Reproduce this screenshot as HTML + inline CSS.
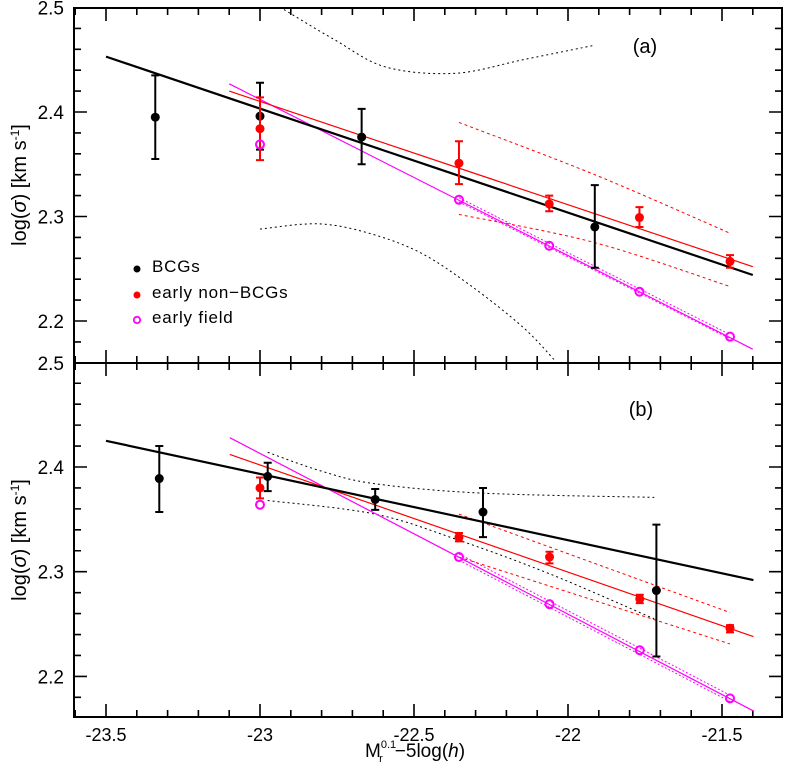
<!DOCTYPE html>
<html><head><meta charset="utf-8"><style>
html,body{margin:0;padding:0;background:#fff;}
svg{display:block;font-family:"Liberation Sans",sans-serif;}
</style></head><body>
<svg id="chart" width="785" height="772" viewBox="0 0 785 772" xmlns="http://www.w3.org/2000/svg">
<g id="plot"></g>
</svg>
<script>
// ---- data ----
const xTicksMajor = [-23.5, -23, -22.5, -22, -21.5];
const xTickLabels = ["-23.5", "-23", "-22.5", "-22", "-21.5"];
const yTicksA = [2.2, 2.3, 2.4, 2.5];
const yTicksB = [2.2, 2.3, 2.4];
// panel a
const aBcgX = [-23.34, -23.0, -22.67, -21.913];
const aBcgY = [2.395, 2.396, 2.376, 2.290];
const aBcgHi = [2.435, 2.428, 2.403, 2.330];
const aBcgLo = [2.355, 2.364, 2.350, 2.251];
const aRedX = [-23.0, -22.354, -22.061, -21.768, -21.474];
const aRedY = [2.384, 2.351, 2.312, 2.299, 2.257];
const aRedHi = [2.414, 2.372, 2.320, 2.309, 2.263];
const aRedLo = [2.354, 2.331, 2.305, 2.290, 2.251];
const aMagX = [-23.0, -22.354, -22.061, -21.768, -21.474];
const aMagY = [2.369, 2.316, 2.272, 2.228, 2.185];
const aFitBlack = [[-23.5, 2.453], [-21.4, 2.244]];
const aFitRed = [[-23.1, 2.420], [-21.4, 2.252]];
const aFitMag = [[-23.1, 2.427], [-21.4, 2.173]];
const aBandBlackUpX = [-22.922, -22.757, -22.591, -22.367, -22.146, -21.912];
const aBandBlackUpY = [2.498, 2.469, 2.443, 2.437, 2.450, 2.464];
const aBandBlackLoX = [-23.0, -22.812, -22.646, -22.477, -22.312, -22.146, -22.045];
const aBandBlackLoY = [2.288, 2.293, 2.284, 2.265, 2.233, 2.194, 2.163];
const aBandRedUp = [[-22.354, 2.390], [-21.913, 2.340], [-21.474, 2.284]];
const aBandRedLo = [[-22.354, 2.302], [-21.913, 2.275], [-21.474, 2.233]];
const aBandMag = [[-22.354, 2.316], [-21.474, 2.185]];
// panel b
const bBcgX = [-23.327, -22.975, -22.626, -22.276, -21.713];
const bBcgY = [2.389, 2.391, 2.369, 2.357, 2.282];
const bBcgHi = [2.420, 2.404, 2.379, 2.380, 2.345];
const bBcgLo = [2.357, 2.377, 2.359, 2.333, 2.219];
const bRedX = [-23.0, -22.354, -22.06, -21.767, -21.474];
const bRedY = [2.380, 2.333, 2.314, 2.274, 2.246];
const bRedHi = [2.390, 2.337, 2.319, 2.278, 2.249];
const bRedLo = [2.370, 2.329, 2.308, 2.270, 2.242];
const bMagX = [-23.0, -22.354, -22.06, -21.767, -21.474];
const bMagY = [2.364, 2.314, 2.269, 2.225, 2.179];
const bFitBlack = [[-23.5, 2.425], [-21.398, 2.292]];
const bFitRed = [[-23.098, 2.412], [-21.398, 2.238]];
const bFitMag = [[-23.098, 2.428], [-21.398, 2.167]];
const bBandBlackUpX = [-22.975, -22.8, -22.626, -22.276, -21.72];
const bBandBlackUpY = [2.414, 2.396, 2.384, 2.375, 2.371];
const bBandBlackLoX = [-22.975, -22.626, -22.354, -22.06, -21.72];
const bBandBlackLoY = [2.368, 2.355, 2.330, 2.298, 2.255];
const bBandRedUp = [[-22.354, 2.355], [-21.474, 2.261]];
const bBandRedLo = [[-22.354, 2.314], [-21.474, 2.231]];
const bBandMag = [[-22.354, 2.314], [-21.474, 2.179]];

// ---- geometry ----
const L = 74, R = 782;
const X = v => 106 + (v + 23.5) * 308;
const YA = v => 112 - (v - 2.4) * 1045;
const YB = v => 467 - (v - 2.4) * 1047;
const topA = 8, mid = 363, botB = 717;
const NS = "http://www.w3.org/2000/svg";
const root = document.getElementById('plot');
function mk(tag, attrs, parent) {
  const e = document.createElementNS(NS, tag);
  for (const k in attrs) e.setAttribute(k, attrs[k]);
  (parent || root).appendChild(e);
  return e;
}
function smoothD(P) {
  let d = `M${P[0][0]},${P[0][1]}`;
  for (let i = 0; i < P.length - 1; i++) {
    const p0 = P[i - 1] || P[i], p1 = P[i], p2 = P[i + 1], p3 = P[i + 2] || P[i + 1];
    const c1 = [p1[0] + (p2[0] - p0[0]) / 6, p1[1] + (p2[1] - p0[1]) / 6];
    const c2 = [p2[0] - (p3[0] - p1[0]) / 6, p2[1] - (p3[1] - p1[1]) / 6];
    d += ` C${c1[0]},${c1[1]} ${c2[0]},${c2[1]} ${p2[0]},${p2[1]}`;
  }
  return d;
}
function poly(pts, Y, stroke, w, dash, name, g) {
  const P = pts.map(p => [X(p[0]), Y(p[1])]);
  const e = mk('path', {d: smoothD(P), fill: 'none', stroke: stroke, 'stroke-width': w}, g);
  if (dash) e.setAttribute('stroke-dasharray', dash);
  
  
  return e;
}
function zip(xs, ys) { return xs.map((x, i) => [x, ys[i]]); }
function errs(xs, ys, hi, lo, Y, color, name, g) {
  xs.forEach((x, i) => {
    const px = X(x);
    const ln = mk('path', {d: `M${px},${Y(hi[i])}V${Y(lo[i])}M${px-4},${Y(hi[i])}h8M${px-4},${Y(lo[i])}h8`, stroke: color, 'stroke-width': 2, fill: 'none'}, g);
    
    
    const c = mk('circle', {cx: px, cy: Y(ys[i]), r: 4.5, fill: color}, g);
    
    
  });
}
function opens(xs, ys, Y, name, g) {
  xs.forEach((x, i) => {
    const c = mk('circle', {cx: X(x), cy: Y(ys[i]), r: 4, fill: 'none', stroke: '#f0f', 'stroke-width': 2}, g);
    
    
  });
}
function axes(Y, yTop, yBot, labels, panel) {
  const g = mk('g', {});
  
  
  let d = '';
  for (let i = -236; i <= -213; i++) {
    const v = i / 10, px = X(v);
    if (px < L || px > R) continue;
    const big = Math.abs(v * 2 - Math.round(v * 2)) < 1e-6;
    const len = big ? 13 : 7;
    d += `M${px},${yBot}v${-len}M${px},${yTop}v${len}`;
  }
  for (let i = 100; i <= 130; i++) {
    const v = i / 50, py = Y(v);
    if (py < yTop + 1 || py > yBot - 1) continue;
    const big = i % 5 === 0;
    const len = big ? 13 : 7;
    d += `M${L},${py}h${len}M${R},${py}h${-len}`;
  }
  mk('path', {d: d, stroke: '#000', 'stroke-width': 1.6, fill: 'none'}, g);
  labels.forEach(v => {
    const t = mk('text', {x: 64, y: Y(v) + 7, 'text-anchor': 'end', 'font-size': 19}, g);
    t.textContent = v.toFixed(1);
    
    
  });
  return g;
}

// Panel a
axes(YA, topA, mid, yTicksA, 'panel-a');
const ga = mk('g', {});


poly(zip(aBandBlackUpX, aBandBlackUpY), YA, '#000', 1, '2,3', 'bcg-band-upper', ga);
poly(zip(aBandBlackLoX, aBandBlackLoY), YA, '#000', 1, '2,3', 'bcg-band-lower', ga);
poly(aBandRedUp, YA, '#f00', 1, '3,3', 'red-band-upper', ga);
poly(aBandRedLo, YA, '#f00', 1, '3,3', 'red-band-lower', ga);
poly(aBandMag.map(p => [p[0], p[1] + 0.002]), YA, '#f0f', 1, '2,2', 'field-band-upper', ga);
poly(aBandMag.map(p => [p[0], p[1] - 0.002]), YA, '#f0f', 1, '2,2', 'field-band-lower', ga);
poly(aFitMag, YA, '#f0f', 1.2, null, 'field-fit-line', ga);
poly(aFitRed, YA, '#f00', 1.2, null, 'red-fit-line', ga);
poly(aFitBlack, YA, '#000', 2.2, null, 'bcg-fit-line', ga);
errs(aBcgX, aBcgY, aBcgHi, aBcgLo, YA, '#000', 'bcg', ga);
errs(aRedX, aRedY, aRedHi, aRedLo, YA, '#f00', 'non-bcg', ga);
opens(aMagX, aMagY, YA, 'field', ga);

// Panel b
axes(YB, mid, botB, yTicksB, 'panel-b');
const gb = mk('g', {});


poly(zip(bBandBlackUpX, bBandBlackUpY), YB, '#000', 1, '2,3', 'bcg-band-upper', gb);
poly(zip(bBandBlackLoX, bBandBlackLoY), YB, '#000', 1, '2,3', 'bcg-band-lower', gb);
poly(bBandRedUp, YB, '#f00', 1, '3,3', 'red-band-upper', gb);
poly(bBandRedLo, YB, '#f00', 1, '3,3', 'red-band-lower', gb);
poly(bBandMag.map(p => [p[0], p[1] + 0.003]), YB, '#f0f', 1, '2,2', 'field-band-upper', gb);
poly(bBandMag.map(p => [p[0], p[1] - 0.003]), YB, '#f0f', 1, '2,2', 'field-band-lower', gb);
poly(bFitMag, YB, '#f0f', 1.2, null, 'field-fit-line', gb);
poly(bFitRed, YB, '#f00', 1.2, null, 'red-fit-line', gb);
poly(bFitBlack, YB, '#000', 2.2, null, 'bcg-fit-line', gb);
errs(bBcgX, bBcgY, bBcgHi, bBcgLo, YB, '#000', 'bcg', gb);
errs(bRedX, bRedY, bRedHi, bRedLo, YB, '#f00', 'non-bcg', gb);
opens(bMagX, bMagY, YB, 'field', gb);

// frames
const fr = mk('path', {d: `M${L},${topA}H${R}V${botB}H${L}ZM${L},${mid}H${R}`, stroke: '#000', 'stroke-width': 2, fill: 'none'});


const lbl = mk('text', {x: 64, y: mid + 7, 'text-anchor': 'end', 'font-size': 19});
lbl.textContent = '2.5';



// x tick labels
xTicksMajor.forEach((v, i) => {
  const t = mk('text', {x: X(v), y: 741, 'text-anchor': 'middle', 'font-size': 18});
  t.textContent = xTickLabels[i];
  
  
});
</script>
<svg width="785" height="772" style="position:absolute;left:0;top:0;font-family:'Liberation Sans',sans-serif">
  <text x="645" y="53" font-size="20" text-anchor="middle">(a)</text>
  <text x="641" y="416" font-size="20" text-anchor="middle">(b)</text>
  <g>
    <circle cx="137" cy="269" r="3.5" fill="#000"/>
    <text x="152" y="272" font-size="17" letter-spacing="0.8">BCGs</text>
    <circle cx="137" cy="295" r="3.5" fill="#f00"/>
    <text x="152" y="298" font-size="17" letter-spacing="0.8">early non−BCGs</text>
    <circle cx="137" cy="320" r="3.2" fill="none" stroke="#f0f" stroke-width="1.8"/>
    <text x="152" y="323" font-size="17" letter-spacing="0.8">early field</text>
  </g>
  <text transform="translate(26,185) rotate(-90)" font-size="20" text-anchor="middle">log(<tspan font-style="italic">σ</tspan>) [km s<tspan font-size="12" dy="-7">-1</tspan><tspan dy="7">]</tspan></text>
  <text transform="translate(26,540) rotate(-90)" font-size="20" text-anchor="middle">log(<tspan font-style="italic">σ</tspan>) [km s<tspan font-size="12" dy="-7">-1</tspan><tspan dy="7">]</tspan></text>
  <text x="365" y="757" font-size="19">M<tspan font-size="11" dy="-9">0.1</tspan><tspan font-size="11" dx="-17" dy="14">r</tspan><tspan dx="12" dy="-5">−5log(<tspan font-style="italic">h</tspan>)</tspan></text>
</svg>
</body></html>
